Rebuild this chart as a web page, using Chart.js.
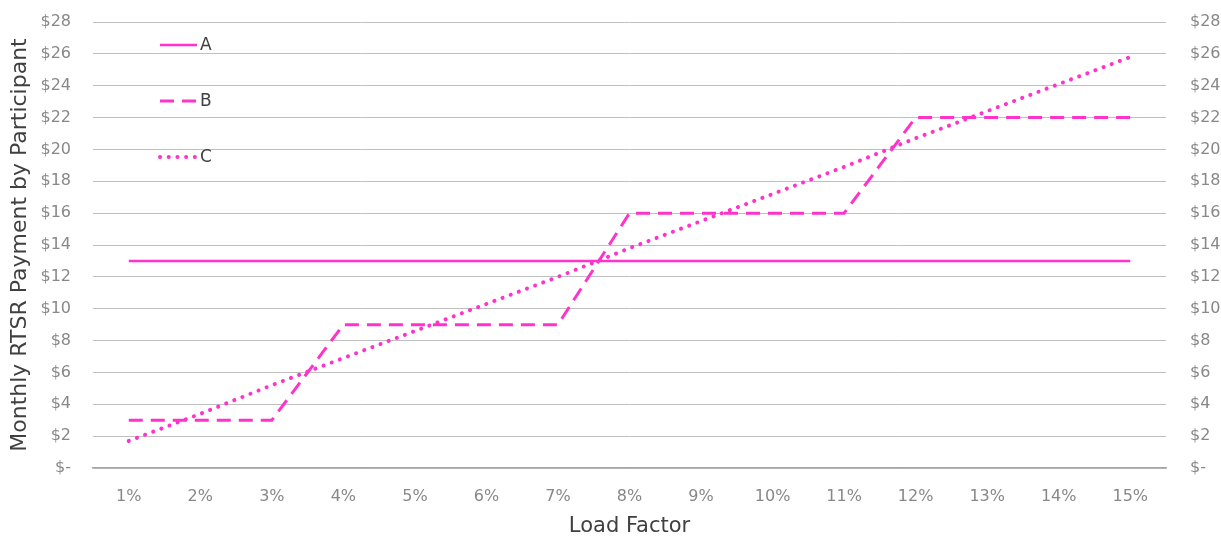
<!DOCTYPE html>
<html>
<head>
<meta charset="utf-8">
<script src="https://cdn.jsdelivr.net/npm/chart.js@4/dist/chart.umd.min.js"></script>
<style>
  html, body { margin: 0; padding: 0; background: #ffffff; }
  #wrap { width: 1221px; height: 539px; position: relative; }
</style>
</head>
<body>
<div id="wrap"><canvas id="c" width="1221" height="539"></canvas></div>
<script>
// Load factor categories
const loadFactors = ['1%','2%','3%','4%','5%','6%','7%','8%','9%','10%','11%','12%','13%','14%','15%'];

// Monthly RTSR payment per participant, $
const seriesA = [13,13,13,13,13,13,13,13,13,13,13,13,13,13,13];
const seriesB = [3,3,3,9,9,9,9,16,16,16,16,22,22,22,22];
const seriesC = [1.7,3.4,5.2,6.9,8.6,10.3,12.0,13.8,15.5,17.2,18.9,20.7,22.4,24.1,25.8];

const seriesNames = ['A','B','C'];
const yMin = 0, yMax = 28, yStep = 2;

const pink = '#FF33CC';
const fontFamily = '"DejaVu Sans", sans-serif';

function moneyLabel(v) {
  return v === 0 ? '$-' : '$' + v;
}

// Legend drawn inside the plot area, stacked vertically at top-left
const innerLegend = {
  id: 'innerLegend',
  afterDatasetsDraw(chart) {
    const ctx = chart.ctx;
    const x0 = 160, x1 = 197;
    const rows = [45, 101, 157];
    chart.data.datasets.forEach((ds, i) => {
      const y = rows[i];
      ctx.save();
      ctx.strokeStyle = ds.borderColor;
      ctx.lineWidth = ds.borderWidth;
      ctx.lineCap = ds.borderCapStyle || 'butt';
      ctx.setLineDash(ds.borderDash || []);
      ctx.beginPath();
      ctx.moveTo(x0, y);
      ctx.lineTo(x1, y);
      ctx.stroke();
      ctx.restore();
      ctx.save();
      ctx.fillStyle = '#404040';
      ctx.font = '17px ' + fontFamily;
      ctx.textBaseline = 'middle';
      ctx.textAlign = 'left';
      ctx.fillText(ds.label, x1 + 3, y + 1);
      ctx.restore();
    });
  }
};

new Chart(document.getElementById('c'), {
  type: 'line',
  data: {
    labels: loadFactors,
    datasets: [
      { label: seriesNames[0], data: seriesA, borderColor: pink, borderWidth: 2.5,
        pointRadius: 0, tension: 0, fill: false },
      { label: seriesNames[1], data: seriesB, borderColor: pink, borderWidth: 3,
        borderDash: [14, 8], pointRadius: 0, tension: 0, fill: false },
      { label: seriesNames[2], data: seriesC, borderColor: pink, borderWidth: 4,
        borderDash: [0.1, 8.6], borderCapStyle: 'round', pointRadius: 0, tension: 0, fill: false }
    ]
  },
  options: {
    responsive: false,
    animation: false,
    devicePixelRatio: 1,
    layout: { padding: { top: 22, left: 0, right: 0, bottom: 0 } },
    plugins: {
      legend: { display: false },
      tooltip: { enabled: false }
    },
    scales: {
      x: {
        offset: true,
        grid: { display: false, drawTicks: false },
        border: { display: true, color: '#A6A6A6', width: 1.5 },
        ticks: { color: '#888888', font: { family: fontFamily, size: 16 }, padding: 19 },
        title: { display: true, text: 'Load Factor', color: '#404040',
                 font: { family: fontFamily, size: 21 }, padding: { top: 10, bottom: 0 } },
        afterFit(s) { s.height = 71; }
      },
      y: {
        position: 'left',
        min: yMin, max: yMax,
        grid: { color: '#BFBFBF', lineWidth: 1, drawTicks: false },
        border: { display: false },
        ticks: { stepSize: yStep, color: '#888888', font: { family: fontFamily, size: 16 },
                 padding: 22, callback: moneyLabel },
        title: { display: true, text: 'Monthly RTSR Payment by Participant', color: '#404040',
                 font: { family: fontFamily, size: 22 }, padding: { top: 7, bottom: 0 } },
        afterFit(s) { s.width = 93; s.paddingTop = 0; s.paddingBottom = 0; }
      },
      y2: {
        position: 'right',
        min: yMin, max: yMax,
        grid: { display: false, drawTicks: false },
        border: { display: false },
        ticks: { stepSize: yStep, color: '#888888', font: { family: fontFamily, size: 16 },
                 padding: 24, callback: moneyLabel },
        afterFit(s) { s.width = 55; s.paddingTop = 0; s.paddingBottom = 0; }
      }
    }
  },
  plugins: [innerLegend]
});
</script>
</body>
</html>
